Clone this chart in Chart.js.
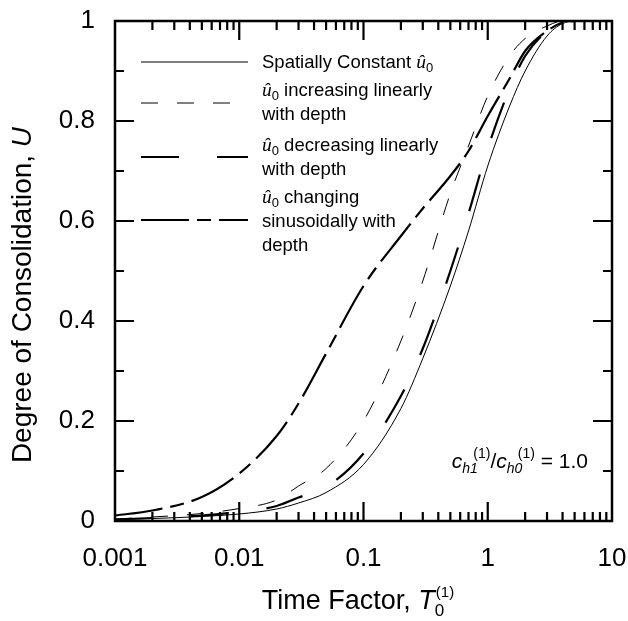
<!DOCTYPE html>
<html><head><meta charset="utf-8">
<script src="https://cdn.jsdelivr.net/npm/chart.js@4/dist/chart.umd.min.js"></script>
<style>html,body{margin:0;padding:0;background:#fff}#wrap{width:628px;height:621px;position:relative}</style>
</head><body><div id="wrap"><canvas id="c"></canvas></div>
<script>
// ---- data ----
const timeFactor   = [0.001,0.002,0.005,0.01,0.02,0.03,0.05,0.1,0.2,0.3,0.5,0.7,1,1.5,2,3,4,5];
const uConstant    = [0.003,0.005,0.009,0.014,0.024,0.036,0.057,0.113,0.225,0.325,0.47,0.58,0.71,0.83,0.90,0.97,0.995,1.0];
const uIncreasing  = [0.004,0.008,0.015,0.025,0.042,0.070,0.105,0.20,0.36,0.48,0.655,0.75,0.85,0.93,0.965,0.99,1.0,1.0];
const uDecreasing  = [0.003,0.006,0.011,0.018,0.030,0.047,0.068,0.135,0.25,0.345,0.50,0.615,0.745,0.865,0.93,0.98,0.997,1.0];
const uSinusoidal  = [0.011,0.021,0.048,0.095,0.17,0.235,0.335,0.47,0.57,0.625,0.69,0.74,0.81,0.885,0.94,0.98,0.997,1.0];
const xTickValues  = [0.001,0.01,0.1,1,10];
const xTickLabels  = ['0.001','0.01','0.1','1','10'];
const yTickValues  = [0,0.2,0.4,0.6,0.8,1];
const yTickLabels  = ['0','0.2','0.4','0.6','0.8','1'];

const SANS = '"Liberation Sans", Arial, Helvetica, sans-serif';
const SERIF = '"Liberation Serif", "Times New Roman", serif';
const dashInc = [17,19], dashDec = [38,38], dashSin = [48,8,14,8];

function pts(u){ return timeFactor.map((t,i)=>({x:t,y:u[i]})); }

function runWidth(ctx,r){
  if(r.stack){ctx.font=r.sub.font;const a=ctx.measureText(r.sub.t).width+(r.sub.dx||0);ctx.font=r.sup.font;const b=ctx.measureText(r.sup.t).width+(r.sup.dx||0);return Math.max(a,b);}
  ctx.font=r.font;return ctx.measureText(r.t).width+(r.dx||0)+(r.after||0);
}
function drawRuns(ctx,runs,x,y,align){
  let w=0;runs.forEach(r=>w+=runWidth(ctx,r));
  let cx=align==='center'?x-w/2:align==='right'?x-w:x;
  ctx.textAlign='left';ctx.textBaseline='alphabetic';ctx.fillStyle='#000';
  runs.forEach(r=>{
    if(r.stack){ctx.font=r.sub.font;ctx.fillText(r.sub.t,cx+(r.sub.dx||0),y+r.sub.dy);ctx.font=r.sup.font;ctx.fillText(r.sup.t,cx+(r.sup.dx||0),y+r.sup.dy);}
    else{ctx.font=r.font;ctx.fillText(r.t,cx+(r.dx||0),y+(r.dy||0));}
    cx+=runWidth(ctx,r);
  });
}
function uhat(size){
  return [{t:'\u00fb',font:'italic '+(size+1)+'px '+SERIF},{t:'0',font:Math.round(size*0.7)+'px '+SANS,dy:4,after:0}];
}

const framePlugin={
  id:'frame',
  afterDraw(chart){
    const ctx=chart.ctx,a=chart.chartArea,xs=chart.scales.x,ys=chart.scales.y;
    ctx.save();
    ctx.strokeStyle='#000';ctx.lineWidth=2.5;ctx.setLineDash([]);
    ctx.strokeRect(a.left,a.top,a.right-a.left,a.bottom-a.top);
    const major=19,minor=9;
    ctx.lineWidth=2.2;
    const xt=[];
    [0.001,0.01,0.1,1].forEach(d=>{for(let m=1;m<10;m++){xt.push({v:d*m,maj:m===1});}});
    xt.forEach(t=>{
      if(t.v<=0.001)return;
      const px=xs.getPixelForValue(t.v),L=t.maj?major:minor;
      ctx.beginPath();ctx.moveTo(px,a.bottom);ctx.lineTo(px,a.bottom-L);ctx.moveTo(px,a.top);ctx.lineTo(px,a.top+L);ctx.stroke();
    });
    for(let k=1;k<10;k++){
      const v=k/10,py=ys.getPixelForValue(v),L=(k%2===0)?major:minor;
      ctx.beginPath();ctx.moveTo(a.left,py);ctx.lineTo(a.left+L,py);ctx.moveTo(a.right,py);ctx.lineTo(a.right-L,py);ctx.stroke();
    }
    // legend
    const lx0=141,lx1=248,tx=262,fs=18.5,F=fs+'px '+SANS;
    const seg=(y,dash,w)=>{ctx.setLineDash(dash);ctx.lineWidth=w;ctx.beginPath();ctx.moveTo(lx0,y);ctx.lineTo(lx1,y);ctx.stroke();};
    seg(62,[],1);seg(103,dashInc,1);seg(157,dashDec,2.2);seg(220,dashSin,2.2);
    ctx.setLineDash([]);
    const bl=c=>c+6;
    drawRuns(ctx,[{t:'Spatially Constant ',font:F}].concat(uhat(fs)),tx,bl(62),'left');
    drawRuns(ctx,uhat(fs).concat([{t:' increasing linearly',font:F}]),tx,bl(90),'left');
    drawRuns(ctx,[{t:'with depth',font:F}],tx,bl(114),'left');
    drawRuns(ctx,uhat(fs).concat([{t:' decreasing linearly',font:F}]),tx,bl(145),'left');
    drawRuns(ctx,[{t:'with depth',font:F}],tx,bl(169),'left');
    drawRuns(ctx,uhat(fs).concat([{t:' changing',font:F}]),tx,bl(197),'left');
    drawRuns(ctx,[{t:'sinusoidally with',font:F}],tx,bl(221),'left');
    drawRuns(ctx,[{t:'depth',font:F}],tx,bl(245),'left');
    // annotation
    const af=21,AF=af+'px '+SANS,AI='italic '+af+'px '+SANS,SS=14;
    const sub=(t)=>({stack:true,sub:{t:t,font:'italic '+SS+'px '+SANS,dy:5},sup:{t:'(1)',font:SS+'px '+SANS,dy:-10,dx:11}});
    drawRuns(ctx,[{t:'c',font:AI},sub('h1'),{t:'/',font:AF},{t:'c',font:AI},sub('h0'),{t:' = 1.0',font:AF}],588,468,'right');
    // axis titles
    const TF=27;
    drawRuns(ctx,[{t:'Time Factor, ',font:TF+'px '+SANS},{t:'T',font:'italic '+TF+'px '+SANS},
      {stack:true,sub:{t:'0',font:'17px '+SANS,dy:7},sup:{t:'(1)',font:'15px '+SANS,dy:-12,dx:1}}],358,609,'center');
    ctx.save();ctx.translate(21,295);ctx.rotate(-Math.PI/2);
    drawRuns(ctx,[{t:'Degree of Consolidation, ',font:'28px '+SANS},{t:'U',font:'italic 28px '+SANS}],0,10,'center');
    ctx.restore();
    ctx.restore();
  }
};

const mk=(label,u,w,dash)=>({label,data:pts(u),borderColor:'#000',backgroundColor:'#000',borderWidth:w,borderDash:dash,
  pointRadius:0,showLine:true,fill:false,cubicInterpolationMode:'monotone'});

new Chart(document.getElementById('c'),{
  type:'scatter',
  data:{datasets:[
    mk('Spatially Constant',uConstant,1,[]),
    mk('increasing linearly with depth',uIncreasing,1,dashInc),
    mk('decreasing linearly with depth',uDecreasing,2.2,dashDec),
    mk('changing sinusoidally with depth',uSinusoidal,2.2,dashSin)
  ]},
  options:{
    responsive:true,maintainAspectRatio:false,animation:false,devicePixelRatio:1,
    layout:{padding:{left:0,right:16,top:21,bottom:0}},
    plugins:{legend:{display:false},tooltip:{enabled:false}},
    scales:{
      x:{type:'logarithmic',min:0.001,max:10,
        afterBuildTicks:s=>{s.ticks=xTickValues.map(v=>({value:v}));},
        afterFit:s=>{s.height=100;s.paddingLeft=0;s.paddingRight=0;},
        grid:{display:false,drawTicks:false},border:{display:false},
        ticks:{autoSkip:false,maxRotation:0,padding:22,color:'#000',font:{family:SANS,size:26},
          callback:(v)=>{const i=xTickValues.findIndex(t=>Math.abs(t-v)/t<1e-6);return i>=0?xTickLabels[i]:'';}}},
      y:{type:'linear',min:0,max:1,
        afterBuildTicks:s=>{s.ticks=yTickValues.map(v=>({value:v}));},
        afterFit:s=>{s.width=115;s.paddingTop=0;s.paddingBottom=0;},
        grid:{display:false,drawTicks:false},border:{display:false},
        ticks:{autoSkip:false,padding:20,color:'#000',font:{family:SANS,size:26},
          callback:(v)=>{const i=yTickValues.findIndex(t=>Math.abs(t-v)<1e-6);return i>=0?yTickLabels[i]:'';}}}
    }
  },
  plugins:[framePlugin]
});
</script></body></html>
